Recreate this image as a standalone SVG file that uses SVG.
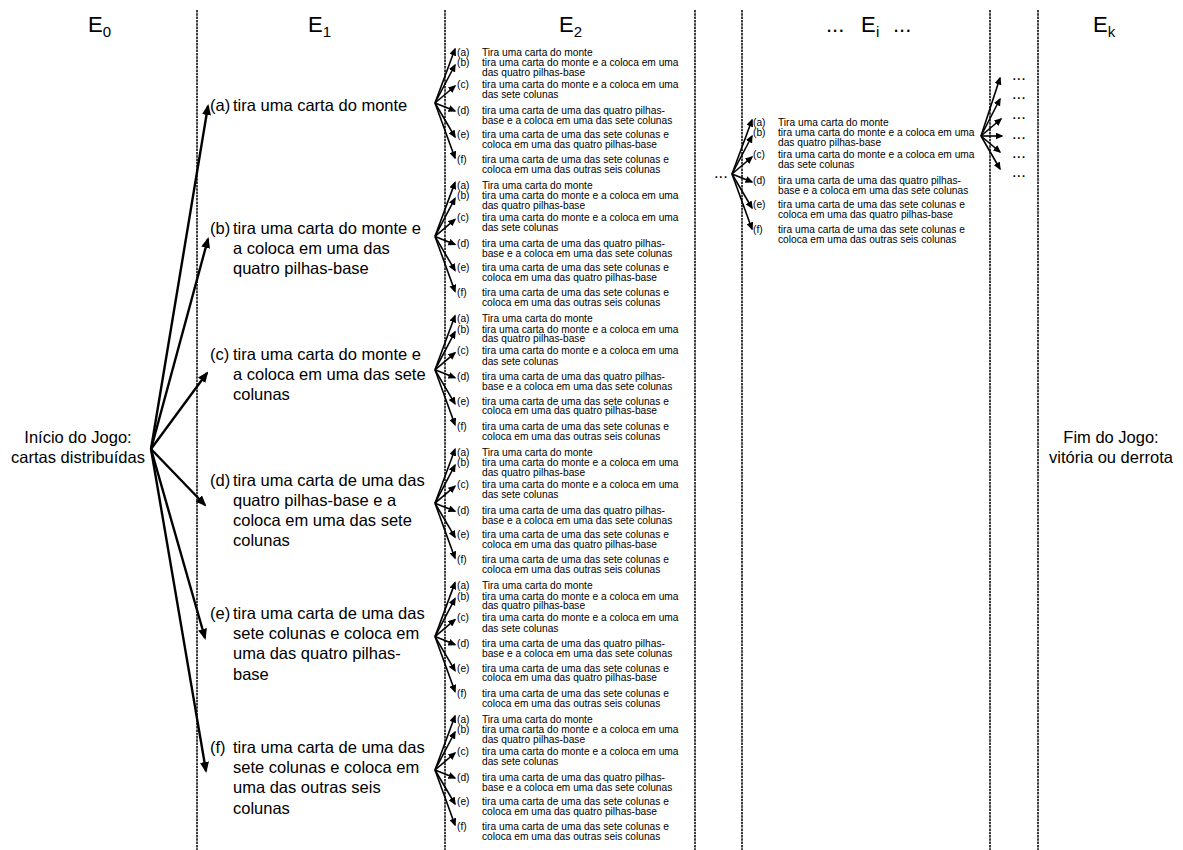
<svg xmlns="http://www.w3.org/2000/svg" width="1183" height="850" viewBox="0 0 1183 850">
<style>
text{font-family:"Liberation Sans",Arial,sans-serif;fill:#000}
.hd{font-size:22px}
.sb{font-size:15px}
.md{font-size:16.5px}
.sm{font-size:10.2px}
.col{stroke:#000;stroke-width:1.5;stroke-dasharray:2.5 0.8;fill:none}
.big{stroke:#000;stroke-width:2.4;fill:none;marker-end:url(#ah)}
.sa{stroke:#000;stroke-width:1.6;fill:none;marker-end:url(#as)}
</style>
<defs>
<marker id="ah" markerUnits="userSpaceOnUse" markerWidth="11" markerHeight="9" refX="9" refY="4.5" orient="auto"><path d="M0,0 L11,4.5 L0,9 z" fill="#000"/></marker>
<marker id="as" markerUnits="userSpaceOnUse" markerWidth="8" markerHeight="7" refX="6.5" refY="3.5" orient="auto"><path d="M0,0 L8,3.5 L0,7 z" fill="#000"/></marker>
</defs>
<rect width="1183" height="850" fill="#fff"/>
<g id="columns">
<line class="col" x1="197" y1="10" x2="197" y2="850"/>
<line class="col" x1="445" y1="10" x2="445" y2="850"/>
<line class="col" x1="695" y1="10" x2="695" y2="850"/>
<line class="col" x1="742" y1="10" x2="742" y2="850"/>
<line class="col" x1="990" y1="10" x2="990" y2="850"/>
<line class="col" x1="1038" y1="10" x2="1038" y2="850"/>
</g>
<g id="headers">
<text class="hd" x="88" y="32">E<tspan class="sb" dy="5">0</tspan></text>
<text class="hd" x="308" y="32">E<tspan class="sb" dy="5">1</tspan></text>
<text class="hd" x="559" y="32">E<tspan class="sb" dy="5">2</tspan></text>
<text class="hd" y="32"><tspan x="826">...</tspan><tspan x="861">E</tspan><tspan class="sb" x="876" dy="5">i</tspan><tspan x="893" dy="-5">...</tspan></text>
<text class="hd" x="1093" y="32">E<tspan class="sb" dy="5">k</tspan></text>
</g>
<g id="start">
<text class="md" x="78" y="443" text-anchor="middle">Início do Jogo:</text>
<text class="md" x="78" y="463" text-anchor="middle">cartas distribuídas</text>
</g>
<g id="end">
<text class="md" x="1111" y="443" text-anchor="middle">Fim do Jogo:</text>
<text class="md" x="1111" y="463" text-anchor="middle">vitória ou derrota</text>
</g>
<g id="e1-a"><text class="md" x="210" y="111">(a)</text><text class="md" x="233" y="111">tira uma carta do monte</text></g>
<g id="e1-b"><text class="md" x="210" y="234">(b)</text><text class="md" x="233" y="234">tira uma carta do monte e</text><text class="md" x="233" y="254">a coloca em uma das</text><text class="md" x="233" y="274">quatro pilhas-base</text></g>
<g id="e1-c"><text class="md" x="210" y="360">(c)</text><text class="md" x="233" y="360">tira uma carta do monte e</text><text class="md" x="233" y="380">a coloca em uma das sete</text><text class="md" x="233" y="400">colunas</text></g>
<g id="e1-d"><text class="md" x="210" y="486">(d)</text><text class="md" x="233" y="486">tira uma carta de uma das</text><text class="md" x="233" y="506">quatro pilhas-base e a</text><text class="md" x="233" y="526">coloca em uma das sete</text><text class="md" x="233" y="546">colunas</text></g>
<g id="e1-e"><text class="md" x="210" y="619">(e)</text><text class="md" x="233" y="619">tira uma carta de uma das</text><text class="md" x="233" y="639">sete colunas e coloca em</text><text class="md" x="233" y="659">uma das quatro pilhas-</text><text class="md" x="233" y="680">base</text></g>
<g id="e1-f"><text class="md" x="210" y="753">(f)</text><text class="md" x="233" y="753">tira uma carta de uma das</text><text class="md" x="233" y="773">sete colunas e coloca em</text><text class="md" x="233" y="793">uma das outras seis</text><text class="md" x="233" y="814">colunas</text></g>
<g id="e2-1">
<text class="sm" x="457" y="55.5">(a)</text><text class="sm" x="482" y="55.5">Tira uma carta do monte</text>
<text class="sm" x="457" y="66">(b)</text><text class="sm" x="482" y="66">tira uma carta do monte e a coloca em uma</text>
<text class="sm" x="482" y="75.5">das quatro pilhas-base</text>
<text class="sm" x="457" y="87.5">(c)</text><text class="sm" x="482" y="87.5">tira uma carta do monte e a coloca em uma</text>
<text class="sm" x="482" y="98">das sete colunas</text>
<text class="sm" x="457" y="113.5">(d)</text><text class="sm" x="482" y="113.5">tira uma carta de uma das quatro pilhas-</text>
<text class="sm" x="482" y="123.5">base e a coloca em uma das sete colunas</text>
<text class="sm" x="457" y="138">(e)</text><text class="sm" x="482" y="138">tira uma carta de uma das sete colunas e</text>
<text class="sm" x="482" y="147.5">coloca em uma das quatro pilhas-base</text>
<text class="sm" x="457" y="163">(f)</text><text class="sm" x="482" y="163">tira uma carta de uma das sete colunas e</text>
<text class="sm" x="482" y="173">coloca em uma das outras seis colunas</text>
</g>
<g id="e2-2" transform="translate(0,133.4)">
<text class="sm" x="457" y="55.5">(a)</text><text class="sm" x="482" y="55.5">Tira uma carta do monte</text>
<text class="sm" x="457" y="66">(b)</text><text class="sm" x="482" y="66">tira uma carta do monte e a coloca em uma</text>
<text class="sm" x="482" y="75.5">das quatro pilhas-base</text>
<text class="sm" x="457" y="87.5">(c)</text><text class="sm" x="482" y="87.5">tira uma carta do monte e a coloca em uma</text>
<text class="sm" x="482" y="98">das sete colunas</text>
<text class="sm" x="457" y="113.5">(d)</text><text class="sm" x="482" y="113.5">tira uma carta de uma das quatro pilhas-</text>
<text class="sm" x="482" y="123.5">base e a coloca em uma das sete colunas</text>
<text class="sm" x="457" y="138">(e)</text><text class="sm" x="482" y="138">tira uma carta de uma das sete colunas e</text>
<text class="sm" x="482" y="147.5">coloca em uma das quatro pilhas-base</text>
<text class="sm" x="457" y="163">(f)</text><text class="sm" x="482" y="163">tira uma carta de uma das sete colunas e</text>
<text class="sm" x="482" y="173">coloca em uma das outras seis colunas</text>
</g>
<g id="e2-3" transform="translate(0,266.8)">
<text class="sm" x="457" y="55.5">(a)</text><text class="sm" x="482" y="55.5">Tira uma carta do monte</text>
<text class="sm" x="457" y="66">(b)</text><text class="sm" x="482" y="66">tira uma carta do monte e a coloca em uma</text>
<text class="sm" x="482" y="75.5">das quatro pilhas-base</text>
<text class="sm" x="457" y="87.5">(c)</text><text class="sm" x="482" y="87.5">tira uma carta do monte e a coloca em uma</text>
<text class="sm" x="482" y="98">das sete colunas</text>
<text class="sm" x="457" y="113.5">(d)</text><text class="sm" x="482" y="113.5">tira uma carta de uma das quatro pilhas-</text>
<text class="sm" x="482" y="123.5">base e a coloca em uma das sete colunas</text>
<text class="sm" x="457" y="138">(e)</text><text class="sm" x="482" y="138">tira uma carta de uma das sete colunas e</text>
<text class="sm" x="482" y="147.5">coloca em uma das quatro pilhas-base</text>
<text class="sm" x="457" y="163">(f)</text><text class="sm" x="482" y="163">tira uma carta de uma das sete colunas e</text>
<text class="sm" x="482" y="173">coloca em uma das outras seis colunas</text>
</g>
<g id="e2-4" transform="translate(0,400.2)">
<text class="sm" x="457" y="55.5">(a)</text><text class="sm" x="482" y="55.5">Tira uma carta do monte</text>
<text class="sm" x="457" y="66">(b)</text><text class="sm" x="482" y="66">tira uma carta do monte e a coloca em uma</text>
<text class="sm" x="482" y="75.5">das quatro pilhas-base</text>
<text class="sm" x="457" y="87.5">(c)</text><text class="sm" x="482" y="87.5">tira uma carta do monte e a coloca em uma</text>
<text class="sm" x="482" y="98">das sete colunas</text>
<text class="sm" x="457" y="113.5">(d)</text><text class="sm" x="482" y="113.5">tira uma carta de uma das quatro pilhas-</text>
<text class="sm" x="482" y="123.5">base e a coloca em uma das sete colunas</text>
<text class="sm" x="457" y="138">(e)</text><text class="sm" x="482" y="138">tira uma carta de uma das sete colunas e</text>
<text class="sm" x="482" y="147.5">coloca em uma das quatro pilhas-base</text>
<text class="sm" x="457" y="163">(f)</text><text class="sm" x="482" y="163">tira uma carta de uma das sete colunas e</text>
<text class="sm" x="482" y="173">coloca em uma das outras seis colunas</text>
</g>
<g id="e2-5" transform="translate(0,533.6)">
<text class="sm" x="457" y="55.5">(a)</text><text class="sm" x="482" y="55.5">Tira uma carta do monte</text>
<text class="sm" x="457" y="66">(b)</text><text class="sm" x="482" y="66">tira uma carta do monte e a coloca em uma</text>
<text class="sm" x="482" y="75.5">das quatro pilhas-base</text>
<text class="sm" x="457" y="87.5">(c)</text><text class="sm" x="482" y="87.5">tira uma carta do monte e a coloca em uma</text>
<text class="sm" x="482" y="98">das sete colunas</text>
<text class="sm" x="457" y="113.5">(d)</text><text class="sm" x="482" y="113.5">tira uma carta de uma das quatro pilhas-</text>
<text class="sm" x="482" y="123.5">base e a coloca em uma das sete colunas</text>
<text class="sm" x="457" y="138">(e)</text><text class="sm" x="482" y="138">tira uma carta de uma das sete colunas e</text>
<text class="sm" x="482" y="147.5">coloca em uma das quatro pilhas-base</text>
<text class="sm" x="457" y="163">(f)</text><text class="sm" x="482" y="163">tira uma carta de uma das sete colunas e</text>
<text class="sm" x="482" y="173">coloca em uma das outras seis colunas</text>
</g>
<g id="e2-6" transform="translate(0,667)">
<text class="sm" x="457" y="55.5">(a)</text><text class="sm" x="482" y="55.5">Tira uma carta do monte</text>
<text class="sm" x="457" y="66">(b)</text><text class="sm" x="482" y="66">tira uma carta do monte e a coloca em uma</text>
<text class="sm" x="482" y="75.5">das quatro pilhas-base</text>
<text class="sm" x="457" y="87.5">(c)</text><text class="sm" x="482" y="87.5">tira uma carta do monte e a coloca em uma</text>
<text class="sm" x="482" y="98">das sete colunas</text>
<text class="sm" x="457" y="113.5">(d)</text><text class="sm" x="482" y="113.5">tira uma carta de uma das quatro pilhas-</text>
<text class="sm" x="482" y="123.5">base e a coloca em uma das sete colunas</text>
<text class="sm" x="457" y="138">(e)</text><text class="sm" x="482" y="138">tira uma carta de uma das sete colunas e</text>
<text class="sm" x="482" y="147.5">coloca em uma das quatro pilhas-base</text>
<text class="sm" x="457" y="163">(f)</text><text class="sm" x="482" y="163">tira uma carta de uma das sete colunas e</text>
<text class="sm" x="482" y="173">coloca em uma das outras seis colunas</text>
</g>
<g id="ei-source"><text class="md" x="714" y="178">...</text></g>
<g id="ei" transform="translate(296,70)">
<text class="sm" x="457" y="55.5">(a)</text><text class="sm" x="482" y="55.5">Tira uma carta do monte</text>
<text class="sm" x="457" y="66">(b)</text><text class="sm" x="482" y="66">tira uma carta do monte e a coloca em uma</text>
<text class="sm" x="482" y="75.5">das quatro pilhas-base</text>
<text class="sm" x="457" y="87.5">(c)</text><text class="sm" x="482" y="87.5">tira uma carta do monte e a coloca em uma</text>
<text class="sm" x="482" y="98">das sete colunas</text>
<text class="sm" x="457" y="113.5">(d)</text><text class="sm" x="482" y="113.5">tira uma carta de uma das quatro pilhas-</text>
<text class="sm" x="482" y="123.5">base e a coloca em uma das sete colunas</text>
<text class="sm" x="457" y="138">(e)</text><text class="sm" x="482" y="138">tira uma carta de uma das sete colunas e</text>
<text class="sm" x="482" y="147.5">coloca em uma das quatro pilhas-base</text>
<text class="sm" x="457" y="163">(f)</text><text class="sm" x="482" y="163">tira uma carta de uma das sete colunas e</text>
<text class="sm" x="482" y="173">coloca em uma das outras seis colunas</text>
</g>
<g id="ek-dots">
<text class="md" x="1012" y="80">...</text>
<text class="md" x="1012" y="99">...</text>
<text class="md" x="1012" y="119">...</text>
<text class="md" x="1012" y="139">...</text>
<text class="md" x="1012" y="158">...</text>
<text class="md" x="1012" y="177">...</text>
</g>
<g id="connectors">
<g id="fan-e0">
<line class="big" x1="151" y1="449" x2="208" y2="106"/>
<line class="big" x1="151" y1="449" x2="208" y2="239"/>
<line class="big" x1="151" y1="449" x2="207" y2="373"/>
<line class="big" x1="151" y1="449" x2="205" y2="505"/>
<line class="big" x1="151" y1="449" x2="205" y2="638"/>
<line class="big" x1="151" y1="449" x2="206" y2="771"/>
</g>
<g id="fan-e1a">
<line class="sa" x1="435" y1="103" x2="455" y2="49"/><line class="sa" x1="435" y1="103" x2="455" y2="65"/><line class="sa" x1="435" y1="103" x2="455" y2="86"/><line class="sa" x1="435" y1="103" x2="455" y2="111"/><line class="sa" x1="435" y1="103" x2="455" y2="137"/><line class="sa" x1="435" y1="103" x2="455" y2="158"/>
</g>
<g id="fan-e1b" transform="translate(0,133.4)">
<line class="sa" x1="435" y1="103" x2="455" y2="49"/><line class="sa" x1="435" y1="103" x2="455" y2="65"/><line class="sa" x1="435" y1="103" x2="455" y2="86"/><line class="sa" x1="435" y1="103" x2="455" y2="111"/><line class="sa" x1="435" y1="103" x2="455" y2="137"/><line class="sa" x1="435" y1="103" x2="455" y2="158"/>
</g>
<g id="fan-e1c" transform="translate(0,266.8)">
<line class="sa" x1="435" y1="103" x2="455" y2="49"/><line class="sa" x1="435" y1="103" x2="455" y2="65"/><line class="sa" x1="435" y1="103" x2="455" y2="86"/><line class="sa" x1="435" y1="103" x2="455" y2="111"/><line class="sa" x1="435" y1="103" x2="455" y2="137"/><line class="sa" x1="435" y1="103" x2="455" y2="158"/>
</g>
<g id="fan-e1d" transform="translate(0,400.2)">
<line class="sa" x1="435" y1="103" x2="455" y2="49"/><line class="sa" x1="435" y1="103" x2="455" y2="65"/><line class="sa" x1="435" y1="103" x2="455" y2="86"/><line class="sa" x1="435" y1="103" x2="455" y2="111"/><line class="sa" x1="435" y1="103" x2="455" y2="137"/><line class="sa" x1="435" y1="103" x2="455" y2="158"/>
</g>
<g id="fan-e1e" transform="translate(0,533.6)">
<line class="sa" x1="435" y1="103" x2="455" y2="49"/><line class="sa" x1="435" y1="103" x2="455" y2="65"/><line class="sa" x1="435" y1="103" x2="455" y2="86"/><line class="sa" x1="435" y1="103" x2="455" y2="111"/><line class="sa" x1="435" y1="103" x2="455" y2="137"/><line class="sa" x1="435" y1="103" x2="455" y2="158"/>
</g>
<g id="fan-e1f" transform="translate(0,667)">
<line class="sa" x1="435" y1="103" x2="455" y2="49"/><line class="sa" x1="435" y1="103" x2="455" y2="65"/><line class="sa" x1="435" y1="103" x2="455" y2="86"/><line class="sa" x1="435" y1="103" x2="455" y2="111"/><line class="sa" x1="435" y1="103" x2="455" y2="137"/><line class="sa" x1="435" y1="103" x2="455" y2="158"/>
</g>
<g id="fan-ei" transform="translate(297,71)">
<line class="sa" x1="435" y1="103" x2="455" y2="49"/><line class="sa" x1="435" y1="103" x2="455" y2="65"/><line class="sa" x1="435" y1="103" x2="455" y2="86"/><line class="sa" x1="435" y1="103" x2="455" y2="111"/><line class="sa" x1="435" y1="103" x2="455" y2="137"/><line class="sa" x1="435" y1="103" x2="455" y2="158"/>
</g>
<g id="fan-ek">
<line class="sa" x1="981" y1="136" x2="1000" y2="78"/>
<line class="sa" x1="981" y1="136" x2="1000" y2="99"/>
<line class="sa" x1="981" y1="136" x2="1001" y2="119"/>
<line class="sa" x1="981" y1="136" x2="1002" y2="136"/>
<line class="sa" x1="981" y1="136" x2="1000" y2="152"/>
<line class="sa" x1="981" y1="136" x2="1000" y2="169"/>
</g>
</g>
</svg>
